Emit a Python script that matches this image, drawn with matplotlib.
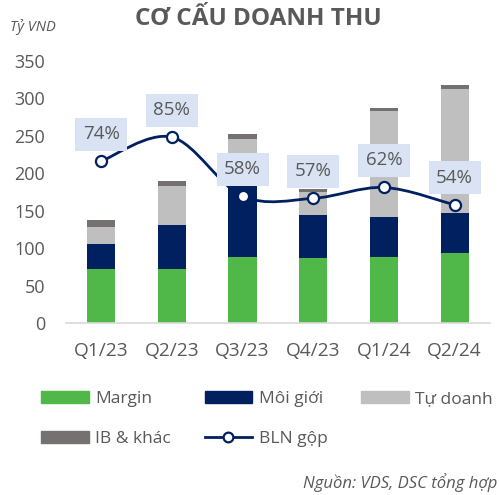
import matplotlib
matplotlib.use("Agg")
import matplotlib.pyplot as plt
import numpy as np
from matplotlib.path import Path
from matplotlib.patches import PathPatch, Patch
from matplotlib.lines import Line2D

plt.rcParams['font.family'] = ['Open Sans', 'DejaVu Sans']

# data (ty VND)
quarters = ['Q1/23', 'Q2/23', 'Q3/23', 'Q4/23', 'Q1/24', 'Q2/24']
margin = [72, 72, 88, 87, 88, 94]
moi_gioi = [34, 59, 98, 57, 53, 53]
tu_doanh = [22, 52, 59, 31, 142, 165]
ib_khac = [10, 7, 7, 4, 4, 5]
bln_gop = [0.74, 0.85, 0.58, 0.57, 0.62, 0.54]

GREEN = '#50B848'
NAVY = '#002060'
LGRAY = '#BFBFBF'
DGRAY = '#767171'
TXT = '#595959'


def smooth_path(xs, ys):
    # catmull-rom -> cubic bezier, similar to excel "smoothed line"
    pts = list(zip(xs, ys))
    verts = [pts[0]]
    codes = [Path.MOVETO]
    n = len(pts)
    for i in range(n - 1):
        p0 = np.array(pts[max(i - 1, 0)])
        p1 = np.array(pts[i])
        p2 = np.array(pts[i + 1])
        p3 = np.array(pts[min(i + 2, n - 1)])
        c1 = p1 + (p2 - p0) / 6
        c2 = p2 - (p3 - p1) / 6
        verts += [tuple(c1), tuple(c2), tuple(p2)]
        codes += [Path.CURVE4] * 3
    return Path(verts, codes)


fig = plt.figure(figsize=(4.99, 4.95), dpi=100)
ax = fig.add_axes([0.132, 0.3475, 0.85, 0.53])

x = np.arange(len(quarters))
w = 0.4
bottom = np.zeros(len(quarters))
series = [(margin, GREEN, 'Margin'), (moi_gioi, NAVY, 'Môi giới'),
          (tu_doanh, LGRAY, 'Tự doanh'), (ib_khac, DGRAY, 'IB & khác')]
for vals, col, lab in series:
    ax.bar(x, vals, w, bottom=bottom, color=col, label=lab, zorder=2)
    bottom += np.array(vals)

ax.set_xlim(-0.5, 5.5)
ax.set_ylim(0, 350)
ax.set_yticks(range(0, 351, 50))
ax.set_xticks(x)
ax.set_xticklabels(quarters)
ax.tick_params(axis='both', length=0, labelsize=13, colors=TXT)
ax.tick_params(axis='x', labelsize=13.8, pad=14)
ax.tick_params(axis='y', pad=15)
for s in ['top', 'right', 'left']:
    ax.spines[s].set_visible(False)
ax.spines['bottom'].set_color('#D9D9D9')
ax.spines['bottom'].set_linewidth(1.2)

# secondary axis for margin %
ax2 = ax.twinx()
ax2.set_ylim(0, 1.2)
ax2.axis('off')
ax2.add_patch(PathPatch(smooth_path(x, bln_gop), fc='none', ec=NAVY, lw=2, zorder=3))
ax2.plot(x, bln_gop, ls='none', marker='o', ms=8, mfc='white', mec=NAVY, mew=1.6, zorder=4)
for xi, v in zip(x, bln_gop):
    ax2.annotate(f"{v:.0%}", (xi, v), xytext=(0, 19.5), textcoords='offset points',
                 ha='center', va='center', fontsize=13.5, color=TXT, zorder=5,
                 bbox=dict(boxstyle='square,pad=0.4', fc='#DAE3F3', ec='none'))

fig.text(0.518, 0.962, 'CƠ CẤU DOANH THU', ha='center', va='center',
         fontsize=17.5, fontweight='bold', color=TXT)
fig.text(0.02, 0.945, 'Tỷ VND', ha='left', va='center', fontsize=10.5,
         style='italic', color=TXT)
fig.text(0.996, 0.025, 'Nguồn: VDS, DSC tổng hợp', ha='right', va='center',
         fontsize=12, style='italic', color=TXT)

handles = [Patch(color=GREEN), Patch(color=DGRAY), Patch(color=NAVY),
           Line2D([], [], color=NAVY, lw=2, marker='o', ms=7, mfc='white', mec=NAVY, mew=1.6),
           Patch(color=LGRAY)]
labels = ['Margin', 'IB & khác', 'Môi giới', 'BLN gộp', 'Tự doanh']
fig.legend(handles, labels, ncol=3, loc='center left', bbox_to_anchor=(0.082, 0.1535),
           frameon=False, fontsize=12.5, labelcolor=TXT, borderpad=0, borderaxespad=0,
           handlelength=2.76, handletextpad=0.35, columnspacing=1.95, labelspacing=1.4)

fig.savefig('out.png', dpi=100)
